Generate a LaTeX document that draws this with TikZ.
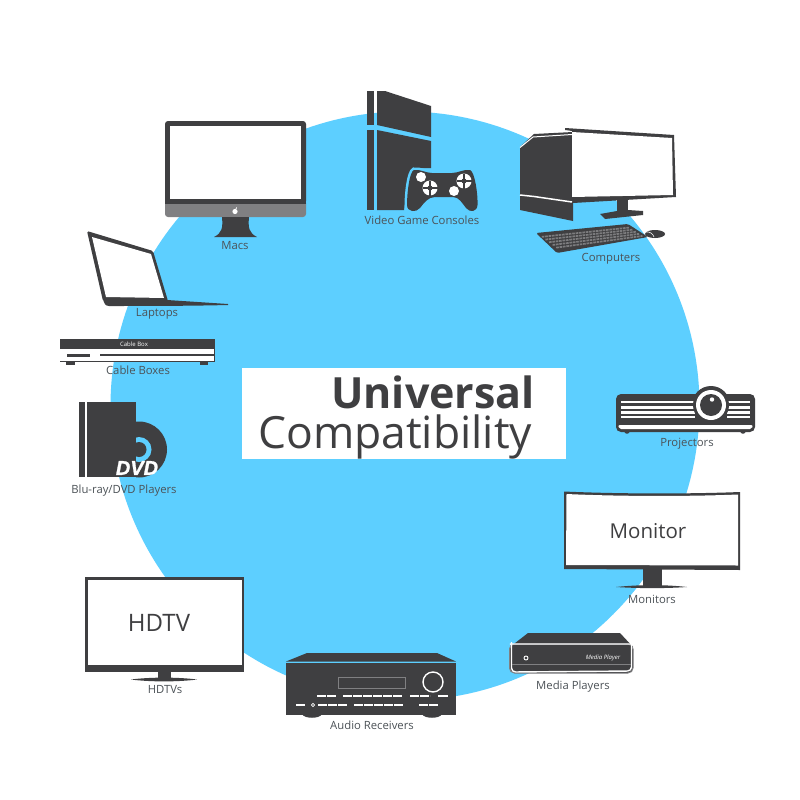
\documentclass[tikz,border=0pt]{standalone}
\usepackage{fontspec}
\usepackage{xcolor}
\setmainfont{Open Sans}
\newfontface\dvdfont[FakeBold=1.2]{Liberation Sans Bold Italic}
\usetikzlibrary{calc}
\definecolor{circleblue}{HTML}{5DCFFF}
\definecolor{devicedark}{HTML}{3F3F41}
\definecolor{chingray}{HTML}{808082}
\definecolor{keygray}{HTML}{7C7C7E}
\definecolor{labelgray}{HTML}{4C5257}
\tikzset{
	devicelabel/.style={font=\fontsize{11.3}{13}\selectfont, text=labelgray, inner sep=0pt, yshift=-1.3pt},
	screentext/.style={font=\fontsize{#1}{#1}\selectfont, text=devicedark, inner sep=0pt},
	devicefill/.style={fill=devicedark, draw=none},
	whitefill/.style={fill=white, draw=none},
	whiteline/.style={draw=white, line width=#1},
	padcross/.style={draw=devicedark, line width=1.2pt}
}
\begin{document}
\begin{tikzpicture}[x=1pt, y=-1pt]
	\useasboundingbox (0, 0) rectangle (800, 800);
	\fill[white] (0, 0) rectangle (800, 800);
	\fill[circleblue] (405, 406) circle (294.5);

	\fill[white] (242, 368) rectangle (566, 459);
	\node[anchor=base west, inner sep=0pt, text=devicedark, font=\fontsize{43}{42}\selectfont\bfseries] (universal) at (331, 408) {Universal};
	\node[anchor=base west, inner sep=0pt, text=devicedark, font=\fontsize{44.4}{44}\selectfont] (compatibility) at (258, 448) {Compatibility};

	\path[devicefill, rounded corners=3pt] (165, 121) -- (306, 121) -- (306, 204) -- (165, 204) -- cycle;
	\path[fill=chingray, rounded corners=3pt] (165, 200) -- (165, 217) -- (306, 217) -- (306, 200) -- cycle;
	\path[devicefill] (165, 198) rectangle (306, 204);
	\path[whitefill] (170, 126) rectangle (301, 199);
	\path[devicefill] (222, 217) .. controls (223, 228) and (222, 233) .. (214, 237) -- (257, 237) .. controls (249, 233) and (248, 228) .. (249, 217) -- cycle;
	\path[whitefill] (235, 211.5) circle (2.6);
	\path[whitefill] (235.5, 208.8) -- (237, 206.8) -- (236.6, 208.8) -- cycle;
	\node[devicelabel] (macs) at (235, 244) {Macs};

	\path[devicefill, rounded corners=1.5pt] (87, 231) -- (153, 251) -- (168, 301) -- (103, 301) -- cycle;
	\path[whitefill] (92, 237) -- (151, 254) -- (164, 298) -- (106, 297) -- cycle;
	\path[devicefill] (103, 299) -- (167, 300) -- (228, 304) -- (228, 305) .. controls (190, 306) and (140, 306) .. (109, 306) .. controls (105, 306) and (104, 303) .. (103, 299) -- cycle;
	\node[devicelabel] (laptops) at (157, 313) {Laptops};

	\path[whitefill] (60, 339) rectangle (215, 362);
	\path[devicefill] (60, 339) rectangle (215, 349);
	\path[devicefill] (60, 360.5) rectangle (215, 362);
	\path[devicefill] (214, 349) rectangle (215, 362);
	\path[devicefill] (67, 353.5) rectangle (90, 356.5);
	\path[devicefill] (100, 353.8) rectangle (214, 356.2);
	\path[devicefill] (66, 362) rectangle (75, 365);
	\path[devicefill] (200, 362) rectangle (208, 365);
	\node[inner sep=0pt, text=white, font=\fontsize{6}{6}\selectfont] (cablebox) at (134, 344) {Cable Box};
	\node[devicelabel] (cableboxes) at (138, 369) {Cable Boxes};

	\path[devicefill] (367, 91) rectangle (374, 125);
	\path[devicefill] (367, 130) rectangle (374, 210);
	\path[devicefill] (377, 91) -- (385, 91) -- (431, 106) -- (431, 137) -- (377, 125) -- cycle;
	\path[devicefill] (377, 130) -- (431, 141) -- (431, 168) -- (418, 168) .. controls (410, 170) and (406, 195) .. (404, 210) -- (377, 210) -- cycle;
	\path[devicefill, preaction={draw=circleblue, line width=5pt}] (414, 170) .. controls (420, 169) and (426, 173) .. (432, 173) -- (452, 173) .. controls (458, 173) and (464, 169) .. (470, 170) .. controls (475, 172) and (478, 195) .. (477.5, 205) .. controls (477, 212) and (470, 213) .. (466, 208) .. controls (462, 203) and (459, 197) .. (453, 197) -- (435, 197) .. controls (428, 197) and (424, 203) .. (420, 208) .. controls (416, 213) and (407, 212) .. (407, 205) .. controls (407, 195) and (409, 172) .. (414, 170) -- cycle;
	\path[whitefill] (421, 177) circle (5);
	\path[whitefill] (454, 191) circle (5);
	\path[whitefill] (430, 188) circle (7.5);
	\draw[padcross] (422.5, 188) -- (437.5, 188);
	\draw[padcross] (430, 180.5) -- (430, 195.5);
	\path[devicefill] (430, 188) circle (2.5);
	\path[whitefill] (464, 181) circle (7.5);
	\draw[padcross] (456.5, 181) -- (471.5, 181);
	\draw[padcross] (464, 173.5) -- (464, 188.5);
	\path[devicefill] (464, 181) circle (2.5);
	\node[devicelabel] (consoles) at (422, 219) {Video Game Consoles};

	\path[devicefill] (520, 147) -- (534, 134) -- (573, 132) -- (573, 221) -- (520, 210) -- cycle;
	\draw[whiteline=1pt] (520, 147.5) -- (533, 137) -- (572, 134.5);
	\draw[whiteline=1.5pt] (520, 195) -- (534, 196.5) -- (572, 202);
	\path[devicefill] (565, 128) -- (674, 135) -- (676, 197) -- (573, 203) -- (572, 131) -- (565, 130) -- cycle;
	\path[whitefill] (572, 132) -- (672, 138) -- (673, 195) -- (572, 197) -- cycle;
	\path[devicefill] (617, 198) rectangle (628, 212);
	\path[devicefill] (600, 214) -- (617, 211) -- (628, 210) -- (643, 211) -- (643, 215) -- (605, 219) -- cycle;
	\coordinate (kbA) at (540, 235.5);
	\coordinate (kbB) at (628, 226.5);
	\coordinate (kbC) at (644, 237);
	\coordinate (kbD) at (558, 249);
	\path[devicefill, rounded corners=1.5pt] (536, 233) -- (628, 224) -- (648, 237) -- (557, 253) -- cycle;
	\foreach \t in {0.1, 0.3, 0.5, 0.7, 0.9} {
		\draw[draw=keygray, line width=1.7pt, dash pattern=on 2.6pt off 0.8pt] ($(kbA)!\t!(kbD)$) -- ($(kbB)!\t!(kbC)$);
	}
	\path[devicefill] (655, 234) ellipse (10 and 4);
	\draw[whiteline=0.6pt] (645, 232) .. controls (650, 231) and (653, 234) .. (654, 237);
	\node[devicelabel] (computers) at (611, 257) {Computers};

	\path[devicefill] (711, 405) circle (19);
	\path[devicefill, rounded corners=5pt] (616, 394) rectangle (755, 432);
	\path[devicefill] (627, 431) circle (2.8);
	\path[devicefill] (743, 431) circle (2.8);
	\foreach \stripey in {402, 407.5, 412.5, 417} {
		\draw[whiteline=2.6pt] (621, \stripey) -- (695, \stripey);
		\draw[whiteline=2.6pt] (727, \stripey) -- (750, \stripey);
	}
	\path[whitefill, rounded corners=2pt] (618, 425) -- (753, 425) -- (752, 429) -- (619, 429) -- cycle;
	\path[devicefill] (711, 405) circle (18);
	\path[whitefill] (711, 405) circle (15);
	\path[devicefill] (711, 405) circle (11);
	\path[whitefill] (712, 399.5) circle (2.2);
	\node[devicelabel] (projectors) at (687, 442) {Projectors};

	\path[devicefill] (564, 491.5) .. controls (620, 494) and (690, 494) .. (740, 492) -- (740, 570) -- (564, 569) -- cycle;
	\path[whitefill] (566.5, 494) .. controls (620, 496.5) and (690, 496.5) .. (738, 494.5) -- (738, 565.5) -- (566, 565) -- cycle;
	\node[screentext=20.5] (monitortext) at (648, 531) {Monitor};
	\path[devicefill] (643, 569) rectangle (662, 586);
	\path[devicefill] (616, 587) .. controls (640, 584.5) and (665, 584.5) .. (687, 587) .. controls (665, 588.5) and (640, 588.5) .. (616, 587) -- cycle;
	\node[devicelabel] (monitors) at (652, 598) {Monitors};

	\path[devicefill] (510, 647) -- (528, 633) -- (620, 633) -- (633, 647) -- cycle;
	\path[fill=devicedark, draw=chingray, line width=1pt, rounded corners=5pt] (509.5, 644) rectangle (633, 673);
	\path[draw=white, line width=1.4pt, rounded corners=4pt] (511.5, 672) -- (511.5, 646) .. controls (511.5, 645) and (512, 644) .. (514, 644) -- (629, 644) .. controls (631, 644) and (631.5, 645) .. (631.5, 646) -- (631.5, 671) -- cycle;
	\draw[draw=chingray, line width=1.2pt] (512, 664.5) -- (631, 664.5);
	\draw[draw=white, line width=0.9pt] (526, 658) circle (2);
	\node[inner sep=0pt, text=white, font=\fontsize{6}{6}\selectfont\itshape] (mediaplayer) at (603, 658) {Media Player};
	\node[devicelabel] (mediaplayers) at (573, 685) {Media Players};

	\path[devicefill] (302, 714) .. controls (304, 719) and (320, 719) .. (322, 714) -- cycle;
	\path[devicefill] (422, 714) .. controls (424, 719) and (440, 719) .. (442, 714) -- cycle;
	\path[devicefill] (286, 661.5) -- (307, 653) -- (437, 653) -- (456, 661.5) -- cycle;
	\path[devicefill] (286, 663) rectangle (456, 715);
	\path[fill=devicedark, draw=chingray, line width=0.8pt] (338, 677) rectangle (405, 688);
	\draw[whiteline=1.4pt] (433, 682) circle (10);
	\draw[whiteline=1.2pt, dash pattern=on 8.5pt off 1.5pt] (317, 696) -- (337, 696);
	\draw[whiteline=1.2pt, dash pattern=on 8.5pt off 1.5pt] (343, 696) -- (402, 696);
	\draw[whiteline=1.2pt, dash pattern=on 8.5pt off 1.5pt] (410, 696) -- (430, 696);
	\draw[whiteline=1.2pt] (438, 696) -- (448, 696);
	\draw[whiteline=1.2pt] (296, 705) -- (305, 705);
	\draw[whiteline=0.7pt] (313, 705) circle (1.7);
	\draw[whiteline=1.2pt, dash pattern=on 8.5pt off 1.5pt] (318, 705) -- (347, 705);
	\draw[whiteline=1.2pt, dash pattern=on 8.5pt off 1.5pt] (354, 705) -- (403, 705);
	\draw[whiteline=1.2pt, dash pattern=on 8.5pt off 1.5pt] (419, 705) -- (439, 705);
	\node[devicelabel] (receivers) at (372, 724) {Audio Receivers};

	\path[devicefill] (85, 577) rectangle (244, 672);
	\path[whitefill] (88, 580) rectangle (242, 665);
	\node[screentext=24] (hdtvtext) at (159, 623) {HDTV};
	\path[devicefill] (158, 672) rectangle (171, 679);
	\path[devicefill] (131, 679.5) .. controls (150, 677) and (178, 677) .. (197, 679.5) .. controls (178, 682) and (150, 682) .. (131, 679.5) -- cycle;
	\node[devicelabel] (hdtvs) at (165, 688) {HDTVs};

	\begin{scope}
		\clip (136, 415) rectangle (170, 477);
		\path[devicefill] (139, 449.5) circle (28);
		\path[fill=circleblue] (139, 449.5) circle (12.5);
		\path[devicefill] (139, 449.5) circle (7.5);
	\end{scope}
	\path[devicefill] (79, 402) rectangle (85, 477);
	\path[devicefill] (87, 402) rectangle (136, 477);
	\node[inner sep=0pt, text=white, font=\fontsize{20}{20}\dvdfont] (dvdtext) at (137, 468) {DVD};
	\node[devicelabel] (bluray) at (124, 489) {Blu-ray/DVD Players};
\end{tikzpicture}
\end{document}
